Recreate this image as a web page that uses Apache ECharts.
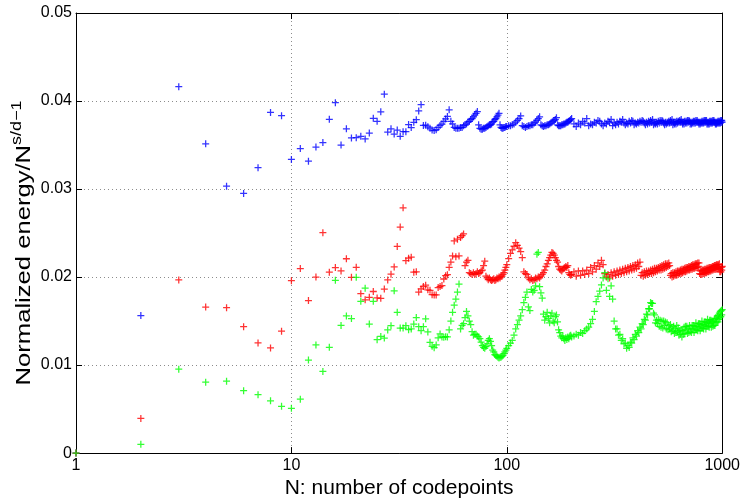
<!DOCTYPE html>
<html>
<head>
<meta charset="utf-8">
<script src="https://cdn.jsdelivr.net/npm/echarts@6/dist/echarts.min.js"></script>
<style>html,body{margin:0;padding:0;background:#fff;}#c{width:743px;height:504px;}</style>
</head>
<body>
<div id="c"></div>
<script>
// N values (number of codepoints) at which values were read
const Ns = [
1,2,3,4,5,6,7,8,9,10,11,12,13,14,15,16,17,18,19,20,21,22,23,24,25,26,27,28,29,30,
31,32,33,34,35,36,37,38,39,40,41,42,43,44,45,46,47,48,49,50,51,52,53,54,55,56,57,58,59,60,
61,62,63,64,65,66,67,68,69,70,71,72,73,74,75,76,77,78,79,80,81,82,83,84,85,86,87,88,89,90,
91,92,93,94,95,96,97,98,99,100,
102,104,106,108,110,112,114,116,118,120,122,124,126,128,130,132,134,136,138,140,
142,144,146,148,150,152,154,156,158,160,162,164,166,168,170,172,174,176,178,180,
182,184,186,188,190,192,194,196,198,200,
205,210,215,220,225,230,235,240,245,250,255,260,265,270,275,280,285,290,295,300,
305,310,315,320,325,330,335,340,345,350,355,360,365,370,375,380,385,390,395,400,
405,410,415,420,425,430,435,440,445,450,455,460,465,470,475,480,485,490,495,500,
505,510,515,520,525,530,535,540,545,550,555,560,565,570,575,580,585,590,595,600,
605,610,615,620,625,630,635,640,645,650,655,660,665,670,675,680,685,690,695,700,
705,710,715,720,725,730,735,740,745,750,755,760,765,770,775,780,785,790,795,800,
805,810,815,820,825,830,835,840,845,850,855,860,865,870,875,880,885,890,895,900,
905,910,915,920,925,930,935,940,945,950,955,960,965,970,975,980,985,990,995,1000
];

const blueVals = [
0,.01563,.04163,.03514,.03032,.02950,.03243,.03870,.03833,.03336,
.03460,.03317,.03477,.03528,.03792,.03981,.03499,.03684,.03580,.03584,
.03599,.03569,.03636,.03803,.03770,.03877,.04078,.03647,.03684,.03625,
.03670,.03599,.03651,.03651,.03733,.03699,.03758,.03788,.03888,.03959,
.03723,.03725,.03707,.03692,.03670,.03665,.03675,.03700,.03722,.03738,
.03770,.03796,.03825,.03900,.03770,.03740,.03700,.03690,.03690,.03690,
.03700,.03700,.03720,.03730,.03740,.03760,.03770,.03790,.03800,.03820,
.03840,.03860,.03880,.03730,.03690,.03680,.03680,.03690,.03690,.03700,
.03710,.03720,.03730,.03730,.03740,.03760,.03770,.03790,.03800,.03820,
.03840,.03860,.03730,.03700,.03690,.03690,.03700,.03700,.03710,.03710,
.0372,.0372,.0373,.0374,.0376,.0378,.0380,.0383,.0372,.0371,
.0370,.0371,.0372,.0372,.0373,.0373,.0375,.0376,.0378,.0380,
.0382,.0373,.0372,.0371,.0372,.0372,.0373,.0373,.0374,.0375,
.0376,.0377,.0378,.0379,.0381,.0373,.0372,.0372,.0372,.0373,
.0373,.0374,.0374,.0375,.0376,.0376,.0377,.0378,.0379,.0380,
.0374,.0371,.0375,.0373,.0377,.0375,.0380,
.0372,.0374,.0373,.0376,.0375,.0378,.0377,
.0374,.0372,.0375,.0374,.0377,.0376,.0379,
.0372,.0375,.0373,.0376,.0374,.0377,.0376,.0379,
.0375,.0373,.0375,.0374,.0377,.0375,.0378,.0377,
.0373,.0375,.0374,.0376,.0375,.0377,.0376,.0378,.0377,
.0375,.0373,.0376,.0374,.0377,.0375,.0378,.0376,.0379,
.0373,.0375,.0374,.0376,.0374,.0377,.0375,.0378,.0376,.0378,.0377,
.0375,.0373,.0376,.0374,.0376,.0375,.0377,.0375,.0378,.0376,.0379,
.0373,.0376,.0374,.0376,.0374,.0377,.0375,.0377,.0376,.0378,.0376,.0379,
.0376,.0374,.0376,.0374,.0377,.0375,.0377,.0375,.0378,.0376,.0378,.0377,
.0374,.0376,.0374,.0376,.0375,.0377,.0375,.0377,.0375,.0378,.0376,.0378,.0376,
.0376,.0374,.0376,.0374,.0376,.0375,.0377,.0375,.0377,.0375,.0378,.0376,.0378,.0376,.0378,
.0374,.0376,.0374,.0376,.0374,.0377,.0375,.0377,.0375,.0377,.0375,.0378,.0376,.0378,.0376,
.0376,.0374,.0376,.0374,.0376,.0375,.0377,.0375,.0377,.0375,.0377,.0375,.0378,.0376,.0378,.0376
];

const redVals = [
0,.00394,.01967,.01659,.01652,.01436,.01251,.01195,.01385,.01959,
.02097,.01733,.02000,.02504,.02056,.02108,.02070,.02208,.01997,.02111,
.01811,.01741,.01770,.01836,.01763,.01759,.01863,.01967,.02033,.02115,
.02348,.02568,.02787,.02186,.02215,.02226,.02056,.02059,.01830,.01866,
.01892,.01908,.01855,.01850,.01800,.01797,.01797,.01881,.01892,.01903,
.01978,.02015,.02027,.02111,.02170,.02240,.02410,.02230,.02430,.02240,
.02450,.02470,.02490,.02130,.02170,.02190,.02050,.02040,.02030,.02050,
.02030,.02040,.02060,.02040,.02050,.02070,.02080,.02130,.02180,.02010,
.01990,.01970,.01990,.01970,.01960,.01970,.01980,.01960,.01970,.01990,
.01980,.02000,.01990,.02010,.02010,.02030,.02050,.02080,.02110,.02140,
.0221,.0227,.0231,.0235,.0239,.0236,.0233,.0229,.0222,.0206,
.0204,.0203,.0199,.0197,.0198,.0196,.0197,.0199,.0198,.0200,
.0199,.0201,.0203,.0205,.0208,.0212,.0215,.0219,.0222,.0225,
.0228,.0227,.0225,.0222,.0219,.0217,.0212,.0209,.0208,.0207,
.0209,.0210,.0211,.0212,.0211,.0213,.0205,.0203,.0202,.0203,
.0206,.0201,.0207,.0202,.0207,.0203,.0208,.0204,.0211,.0206,.0213,.0209,.0216,.0212,.0219,.0214,
.0204,.0200,.0203,.0199,.0205,.0201,.0206,.0202,.0207,.0203,.0208,.0204,.0209,.0205,.0210,.0206,
.0211,.0207,.0212,.0208,.0213,.0209,.0214,.0210,.0216,.0212,.0217,
.0202,.0205,.0201,.0206,.0202,.0207,.0203,.0207,.0204,.0208,.0204,.0209,.0205,.0210,.0206,.0210,
.0207,.0211,.0208,.0212,.0208,.0213,.0209,.0214,.0210,.0215,.0211,.0215,.0212,.0216,.0213,
.0202,.0204,.0200,.0205,.0201,.0205,.0202,.0206,.0202,.0207,.0203,.0207,.0204,.0208,.0204,.0209,
.0205,.0209,.0206,.0210,.0206,.0211,.0207,.0211,.0208,.0212,.0208,.0212,.0209,.0213,.0209,.0214,
.0210,.0214,.0210,.0215,.0211,.0215,.0211,.0216,.0212,.0216,
.0204,.0207,.0203,.0207,.0203,.0208,.0204,.0208,.0204,.0209,.0205,.0209,.0205,.0210,.0206,.0210,
.0206,.0211,.0207,.0211,.0207,.0211,.0208,.0212,.0208,.0212,.0209,.0213,.0209,.0213,.0209,.0214,
.0210,.0214,.0210,.0214,.0211,.0215,.0206,.0209,.0206,.0211,.0208,.0212
];

const greenVals = [
0,.00100,.00954,.00806,.00817,.00709,.00664,.00594,.00531,.00509,
.00612,.01057,.01229,.00928,.01202,.01963,.01451,.01558,.01529,.01997,
.01725,.01874,.01466,.01725,.01288,.01325,.01307,.01399,.01447,.01844,
.01599,.01421,.01421,.01447,.01402,.01410,.01466,.01540,.01436,.01391,
.01436,.01525,.01377,.01258,.01213,.01198,.01229,.01310,.01354,.01320,
.01315,.01322,.01320,.01400,.01500,.01600,.01680,.01750,.01830,.01920,
.01410,.01450,.01470,.01540,.01610,.01560,.01500,.01460,.01380,.01340,
.01350,.01350,.01330,.01320,.01300,.01260,.01220,.01200,.01190,.01210,
.01240,.01280,.01300,.01270,.01220,.01170,.01150,.01120,.01110,.01100,
.01090,.01080,.01090,.01090,.01100,.01110,.01130,.01150,.01170,.01190,
.0122,.0125,.0128,.0134,.0141,.0146,.0151,.0156,.0163,.0171,
.0177,.0183,.0166,.0162,.0186,.0183,.0185,.0190,.0226,.0228,
.0189,.0182,.0176,.0158,.0151,.0155,.0160,.0153,.0148,.0156,
.0159,.0150,.0148,.0155,.0157,.0149,.0140,.0137,.0133,.0131,
.0133,.0130,.0128,.0131,.0129,.0132,.0130,.0133,.0134,.0132,
.0133,.0135,.0134,.0137,.0136,.0139,.0141,.0143,.0147,.0152,.0161,
.0172,.0178,.0184,.0191,.0199,.0205,.0185,.0198,.0178,.0190,.0175,
.0150,.0141,.0141,.0134,.0135,.0128,.0130,.0124,.0125,.0119,.0122,.0120,
.0126,.0125,.0131,.0129,.0135,.0133,.0139,.0137,.0143,.0141,.0147,.0146,
.0152,.0151,.0158,.0157,.0164,.0164,.0171,.0170,.0170,.0159,.0157,.0148,
.0151,.0147,.0152,.0144,.0151,.0143,.0150,.0142,.0150,.0145,.0149,.0141,
.0148,.0140,.0145,.0141,.0146,.0138,.0143,.0139,.0144,.0136,.0141,.0137,
.0145,.0138,.0142,.0134,.0139,.0135,.0140,.0132,.0139,.0135,.0143,.0136,
.0144,.0140,.0144,.0136,.0141,.0137,.0145,.0138,.0142,.0137,.0145,.0141,
.0145,.0137,.0144,.0140,.0148,.0140,.0144,.0139,.0147,.0143,.0147,.0139,
.0146,.0142,.0150,.0142,.0146,.0141,.0149,.0145,.0149,.0141,.0148,.0144,
.0152,.0144,.0148,.0143,.0151,.0147,.0151,.0143,.0150,
.0149,.0144,.0149,.0145,.0152,.0145,.0153,.0148,.0153,.0149,.0156,
.0149,.0157,.0152,.0159,.0154,.0161,.0155,.0162,.0157,.0163
];

const xTicks = [1, 10, 100, 1000];
const yTicks = [0, 0.01, 0.02, 0.03, 0.04, 0.05];

const FONT = '"Liberation Sans", Arial, Helvetica, sans-serif';
const PLUS = 'path://M-0.9,-5H0.9V-0.9H5V0.9H0.9V5H-0.9V0.9H-5V-0.9H-0.9Z';

function pairs(vals) {
  const out = [];
  for (let i = 0; i < Ns.length && i < vals.length; i++) out.push([Ns[i], vals[i]]);
  return out;
}

const chart = echarts.init(document.getElementById('c'), null, {renderer: 'canvas'});

const gridLine = {show: true, lineStyle: {color: '#8c8c8c', width: 1, type: [1, 3]}};
const tickStyle = {lineStyle: {color: '#000', width: 1}};

const xBase = {
  type: 'log', logBase: 10, min: xTicks[0], max: xTicks[xTicks.length - 1],
  axisLine: {show: true, onZero: false, lineStyle: {color: '#000', width: 1}},
  axisTick: Object.assign({show: true, inside: true, length: 6}, tickStyle),
  minorTick: {show: false}
};
const yBase = {
  type: 'value', min: yTicks[0], max: yTicks[yTicks.length - 1], interval: 0.01,
  axisLine: {show: true, onZero: false, lineStyle: {color: '#000', width: 1}},
  axisTick: Object.assign({show: true, inside: true, length: 6}, tickStyle)
};

const option = {
  animation: false,
  backgroundColor: '#fff',
  grid: {left: 76, right: 19, top: 13, bottom: 42, show: false},
  graphic: [{
    type: 'text', x: 22, y: 243, rotation: Math.PI / 2, scaleX: 1.28, scaleY: 1,
    silent: true,
    style: {
      text: '{a|Normalized energy/N}{b|s/d\u22121}',
      align: 'center', verticalAlign: 'middle', fill: '#000',
      fontFamily: FONT, fontSize: 20,
      rich: {
        a: {fontSize: 20, fontFamily: FONT, fill: '#000', verticalAlign: 'bottom'},
        b: {fontSize: 14, fontFamily: FONT, fill: '#000', verticalAlign: 'bottom', padding: [0, 0, 10, 0]}
      }
    }
  }],
  xAxis: [
    Object.assign({}, xBase, {
      position: 'bottom',
      axisLabel: {color: '#000', fontSize: 16, fontFamily: FONT, margin: 4,
        formatter: v => String(Math.round(v))},
      splitLine: gridLine,
      name: 'N: number of codepoints', nameLocation: 'middle', nameGap: 24,
      nameTextStyle: {color: '#000', fontSize: 21, fontFamily: FONT}
    }),
    Object.assign({}, xBase, {position: 'top', axisLabel: {show: false}, splitLine: {show: false}})
  ],
  yAxis: [
    Object.assign({}, yBase, {
      position: 'left',
      axisLabel: {color: '#000', fontSize: 16, fontFamily: FONT, margin: 4,
        formatter: v => (Math.abs(v) < 1e-9 ? '0' : v.toFixed(2))},
      splitLine: gridLine
    }),
    Object.assign({}, yBase, {position: 'right', axisLabel: {show: false}, splitLine: {show: false}})
  ],
  series: [
    {name: 'blue', type: 'scatter', data: pairs(blueVals), symbol: PLUS, symbolSize: 7,
      itemStyle: {color: '#0000ff'}, xAxisIndex: 0, yAxisIndex: 0, silent: true},
    {name: 'red', type: 'scatter', data: pairs(redVals), symbol: PLUS, symbolSize: 7,
      itemStyle: {color: '#ff0000'}, xAxisIndex: 0, yAxisIndex: 0, silent: true},
    {name: 'green', type: 'scatter', data: pairs(greenVals), symbol: PLUS, symbolSize: 7,
      itemStyle: {color: '#00ff00'}, xAxisIndex: 0, yAxisIndex: 0, silent: true}
  ]
};
chart.setOption(option);
</script>
</body>
</html>
